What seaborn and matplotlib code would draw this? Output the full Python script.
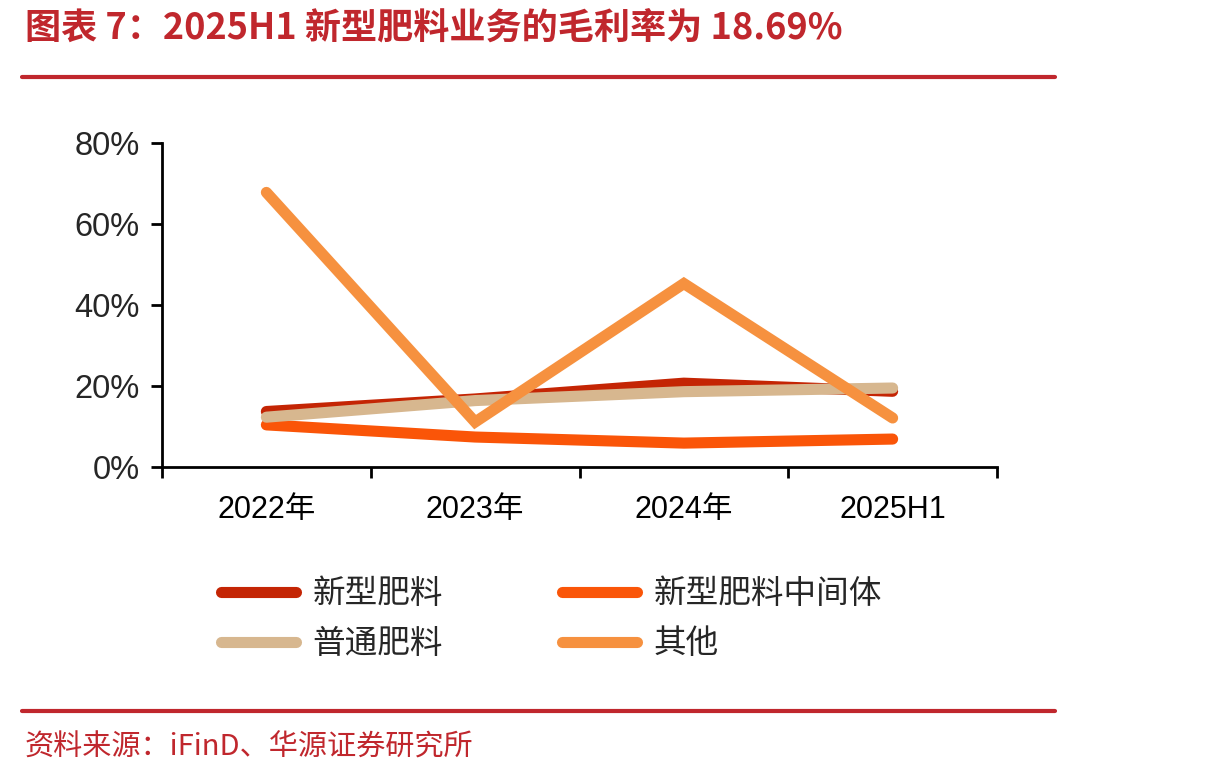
import matplotlib
matplotlib.use("Agg")
import matplotlib.pyplot as plt
from matplotlib.lines import Line2D
from matplotlib.ticker import FixedLocator
import seaborn as sns
import pandas as pd

# ---- data (gross margin, %) ----
periods = ["2022年", "2023年", "2024年", "2025H1"]
series_names = ["新型肥料", "新型肥料中间体", "普通肥料", "其他"]
xinxing = [13.7, 16.8, 20.7, 18.69]
zhongjianti = [10.4, 7.4, 5.9, 6.9]
putong = [12.3, 16.4, 18.6, 19.5]
qita = [67.8, 11.1, 45.3, 12.1]
yticks = [0, 20, 40, 60, 80]

colors = ["#C42504", "#FA5508", "#D7B78F", "#F6913F"]

df = pd.DataFrame({
    "period": periods * 4,
    "value": xinxing + zhongjianti + putong + qita,
    "series": sum([[s] * len(periods) for s in series_names], []),
})

sns.set_theme(style="white")
plt.rcParams["font.family"] = ["Liberation Sans", "Noto Sans CJK SC", "DejaVu Sans"]

fig = plt.figure(figsize=(12.1, 7.83), dpi=100)
ax = fig.add_axes([162 / 1210, 1 - 467 / 783, 835 / 1210, 324 / 783])

sns.lineplot(data=df, x="period", y="value", hue="series", hue_order=series_names,
             palette=colors, linewidth=8, sort=False, ax=ax, legend=False)
for ln in ax.lines:
    ln.set_solid_capstyle("round")
    ln.set_solid_joinstyle("miter")

ax.set_xlim(-0.5, len(periods) - 0.5)
ax.set_ylim(0, 80)
ax.set_yticks(yticks)
ax.set_yticklabels([f"{v}%" for v in yticks])
ax.set_xticks(range(len(periods)))
ax.set_xticklabels(periods)
ax.xaxis.set_minor_locator(FixedLocator([i - 0.5 for i in range(len(periods) + 1)]))
ax.tick_params(axis="x", which="major", length=0, pad=20, labelsize=22, colors="black")
ax.tick_params(axis="x", which="minor", length=8, width=2, direction="out", color="black", bottom=True)
ax.tick_params(axis="y", length=8, width=2, direction="out", color="black", labelsize=23.5, pad=8, left=True)
ax.set_xlabel("")
ax.set_ylabel("")
for s in ["top", "right"]:
    ax.spines[s].set_visible(False)
for s in ["left", "bottom"]:
    ax.spines[s].set_color("black")
    ax.spines[s].set_linewidth(2)

# legend
handles = [Line2D([0], [0], color=c, lw=8, solid_capstyle="round") for c in colors]
order = [0, 2, 1, 3]
leg = fig.legend([handles[i] for i in order], [series_names[i] for i in order],
                 loc="upper left", bbox_to_anchor=(205 / 1210, 1 - 562 / 783),
                 ncol=2, frameon=False, handlelength=2.3,
                 handletextpad=0.5, columnspacing=3.65, labelspacing=0.55,
                 borderpad=0, prop={"family": ["Noto Sans CJK SC"], "size": 23.5})

red = "#C0272D"
fig.text(25 / 1210, 1 - 28 / 783, "图表 7：2025H1 新型肥料业务的毛利率为 18.69%",
         fontsize=26, fontweight="bold", color=red, va="center", ha="left",
         family=["Noto Sans CJK SC", "DejaVu Sans"])
fig.add_artist(Line2D([22 / 1210, 1055 / 1210], [1 - 77 / 783] * 2, lw=3, color=red))
fig.add_artist(Line2D([22 / 1210, 1055 / 1210], [1 - 711 / 783] * 2, lw=3, color=red))
fig.text(25 / 1210, 1 - 748 / 783, "资料来源：iFinD、华源证券研究所",
         fontsize=21, color=red, va="center", ha="left",
         family=["Noto Sans CJK SC", "DejaVu Sans"])

fig.savefig("out.png", dpi=100)
